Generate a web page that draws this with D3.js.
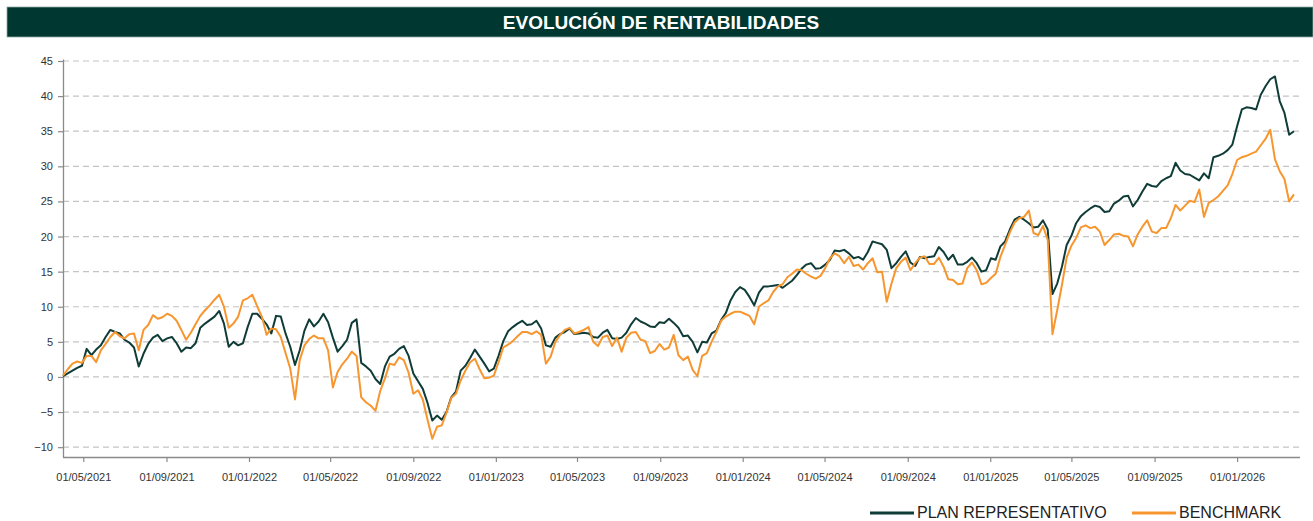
<!DOCTYPE html>
<html>
<head>
<meta charset="utf-8">
<script src="https://cdn.jsdelivr.net/npm/d3@7"></script>
<style>
  body { margin: 0; background: #fff; }
  text { font-family: "Liberation Sans", Arial, sans-serif; }
</style>
</head>
<body>
<svg id="chart" width="1313" height="521"></svg>
<script>
// weekly observations, starting on this date
const startDate = "2021-04-01";
const stepDays = 7;

const planValues = [
  0.1, 0.5, 0.9, 1.3, 1.6, 4.0, 3.1, 3.9, 4.5, 5.7,
  6.7, 6.4, 6.2, 5.3, 4.9, 4.2, 1.5, 3.3, 4.7, 5.6,
  6.0, 5.1, 5.5, 5.7, 4.8, 3.6, 4.2, 4.1, 4.8, 7.0,
  7.6, 8.1, 8.6, 9.4, 7.6, 4.3, 5.0, 4.5, 4.8, 7.1,
  9.0, 9.0, 8.3, 7.5, 6.2, 8.7, 8.6, 6.2, 4.3, 1.7,
  3.8, 6.6, 8.2, 7.2, 7.9,
  9.0, 7.8, 5.6, 3.6, 4.4, 5.3, 7.7, 8.2, 2.0, 1.5,
  0.9, -0.3, -1.0, 1.5, 2.9, 3.3, 4.0, 4.4, 3.0, 0.5,
  -0.6, -1.7, -3.7, -6.2, -5.5, -6.1, -5.0, -2.9, -2.1, 0.9,
  1.6, 2.7, 3.9, 2.9, 1.9, 0.8, 1.2, 3.0, 5.1, 6.5,
  7.1, 7.6, 8.0, 7.4, 7.5, 8.0, 6.9, 4.5, 4.3, 5.6, 6.1, 6.4,
  6.9, 6.1, 6.2, 6.3, 6.2, 5.7, 5.6, 6.3, 6.7, 5.5,
  5.4, 5.6, 6.3, 7.5, 8.4, 7.9, 7.6, 7.2, 7.1, 7.8,
  7.7, 8.3, 7.7, 7.0, 5.8, 5.9, 5.0, 3.5, 5.0, 4.9,
  6.2, 6.6, 8.1, 9.1, 10.9, 12.1, 12.8, 12.4, 11.4, 10.2,
  12.0, 12.9, 12.9, 13.0, 13.1, 12.7, 13.2, 13.7, 14.5, 15.4, 16.0, 16.2, 15.4,
  15.5, 16.0, 16.7, 18.0, 17.9, 18.1, 17.6, 16.9, 17.1, 16.7,
  17.8, 19.3, 19.1, 18.9, 18.1, 15.5, 16.2, 17.1, 17.9, 16.3,
  15.8, 17.1, 16.9, 17.1, 17.2, 18.5, 17.8, 16.7, 17.4, 16.0,
  16.0, 16.4, 17.0, 16.2, 15.0, 15.2, 16.9, 16.7, 18.6, 19.3,
  21.0, 22.4, 22.8, 22.4, 21.9, 21.3, 21.4, 22.3, 21.0, 11.8, 13.3, 15.7, 18.8,
  20.1, 21.9, 22.9, 23.5, 24.0, 24.4, 24.2, 23.5, 23.6, 24.7,
  25.1, 25.7, 25.8, 24.3, 25.2, 26.4, 27.5, 27.2, 27.1, 27.9,
  28.3, 28.6, 30.5, 29.4, 28.9, 28.8, 28.4, 28.0, 29.0, 28.3,
  31.3, 31.5, 31.8, 32.3, 33.1, 35.7, 38.1, 38.4, 38.3, 38.1,
  40.2, 41.4, 42.4, 42.8, 39.3, 37.6, 34.5, 35.0
];

const benchValues = [
  0.2, 1.1, 1.9, 2.2, 2.0, 3.0, 3.0, 2.1, 3.8, 4.7,
  5.7, 6.4, 5.8, 5.5, 6.1, 6.2, 3.8, 6.7, 7.4, 8.8,
  8.3, 8.5, 9.0, 8.7, 8.0, 6.7, 5.3, 6.3, 7.5, 8.7,
  9.5, 10.2, 11.0, 11.7, 10.0, 7.0, 7.6, 8.6, 10.9, 11.2,
  11.7, 10.1, 8.6, 6.0, 6.9, 6.8, 5.7, 3.4, 1.2, -3.2,
  2.4, 4.5, 5.4, 5.9, 5.5,
  5.5, 3.8, -1.5, 0.7, 1.8, 2.6, 3.6, 3.0, -2.9, -3.6,
  -4.1, -4.8, -2.0, -0.2, 1.9, 1.7, 2.8, 2.4, 0.6, -2.4,
  -1.9, -3.2, -6.1, -8.8, -7.1, -6.9, -5.1, -3.0, -2.4, -0.5,
  0.9, 2.1, 2.6, 1.1, -0.2, -0.1, 0.2, 2.1, 4.2, 4.6,
  5.1, 5.8, 6.4, 6.4, 6.1, 6.5, 6.0, 1.9, 2.9, 5.0, 6.0, 6.7,
  7.0, 6.2, 6.4, 6.7, 7.1, 5.0, 4.4, 5.7, 5.9, 4.4,
  5.6, 3.6, 5.6, 6.3, 6.4, 5.3, 5.1, 3.4, 3.7, 4.7,
  3.9, 4.2, 6.0, 3.1, 2.4, 2.9, 1.0, 0.1, 3.0, 3.4,
  5.0, 6.4, 8.0, 8.6, 9.0, 9.3, 9.3, 9.0, 8.7, 7.5,
  10.0, 10.5, 10.9, 12.1, 12.9, 13.2, 14.2, 14.7, 15.3, 15.2, 14.7, 14.3, 14.0,
  14.4, 15.5, 16.9, 17.6, 17.2, 16.2, 17.1, 15.8, 16.0, 15.3,
  16.2, 16.9, 14.9, 15.0, 10.7, 13.3, 15.5, 16.4, 17.0, 15.2,
  16.2, 17.0, 17.2, 16.1, 16.1, 17.0, 15.7, 13.9, 13.8, 13.2,
  13.3, 15.5, 16.3, 15.2, 13.2, 13.4, 14.1, 14.7, 17.1, 18.8,
  20.6, 22.0, 22.6, 22.8, 23.7, 20.5, 20.2, 21.5, 19.5, 6.1, 9.5, 13.1, 17.0,
  18.7, 19.8, 21.3, 21.6, 21.2, 21.4, 20.7, 18.8, 19.5, 20.3,
  20.4, 20.1, 20.0, 18.6, 20.3, 21.4, 22.3, 20.7, 20.5, 21.2,
  21.2, 22.6, 24.5, 23.7, 24.4, 25.1, 24.9, 26.7, 22.8, 24.8,
  25.2, 25.7, 26.5, 27.3, 28.9, 30.9, 31.3, 31.5, 31.8, 32.1,
  33.0, 33.9, 35.2, 31.0, 29.3, 28.2, 25.0, 26.0
];

const xTickDates = [
  "2021-05-01", "2021-09-01", "2022-01-01", "2022-05-01", "2022-09-01",
  "2023-01-01", "2023-05-01", "2023-09-01", "2024-01-01", "2024-05-01",
  "2024-09-01", "2025-01-01", "2025-05-01", "2025-09-01", "2026-01-01"
];
const yTicks = [-10, -5, 0, 5, 10, 15, 20, 25, 30, 35, 40, 45];
const seriesNames = ["PLAN REPRESENTATIVO", "BENCHMARK"];
const seriesColors = ["#0f3c37", "#f7962f"];
const titleText = "EVOLUCIÓN DE RENTABILIDADES";

const parse = d3.timeParse("%Y-%m-%d");
const fmt = d3.timeFormat("%d/%m/%Y");

const svg = d3.select("#chart");

// title bar
svg.append("rect")
    .attr("x", 7).attr("y", 7)
    .attr("width", 1306).attr("height", 30)
    .attr("fill", "#003731")
    .attr("stroke", "#8fa8a4").attr("stroke-width", 0.8);
svg.append("text")
    .attr("x", 661).attr("y", 29)
    .attr("text-anchor", "middle")
    .attr("fill", "#fff")
    .attr("font-weight", "bold")
    .attr("font-size", 19)
    .text(titleText);

// plot area (plain names like "top" clash with window globals)
var plotLeft = 63, plotRight = 1300, plotTop = 59.6, plotBottom = 457;

var x = d3.scaleTime()
    .domain([parse("2021-04-01"), parse("2026-04-04")])
    .range([plotLeft, plotRight]);
var y = d3.scaleLinear()
    .domain([-11.4, 45.2])
    .range([plotBottom, plotTop]);

var start = parse(startDate);
function toPoints(vals) {
  return vals.map((v, i) => ({ date: d3.timeDay.offset(start, i * stepDays), value: v }));
}
var series = [toPoints(planValues), toPoints(benchValues)];

// grid
svg.append("g")
  .selectAll("line")
  .data(yTicks)
  .enter().append("line")
    .attr("x1", plotLeft).attr("x2", plotRight)
    .attr("y1", d => y(d)).attr("y2", d => y(d))
    .attr("stroke", "#c4c4c4")
    .attr("stroke-width", 1.2)
    .attr("stroke-dasharray", "6,4");

// y axis
var yAxis = d3.axisLeft(y).tickValues(yTicks).tickSize(5).tickPadding(5);
var gy = svg.append("g")
    .attr("transform", "translate(" + plotLeft + ",0)")
    .call(yAxis);

// x axis
var xAxis = d3.axisBottom(x)
    .tickValues(xTickDates.map(parse))
    .tickFormat(fmt)
    .tickSize(5).tickPadding(11);
var gx = svg.append("g")
    .attr("transform", "translate(0," + plotBottom + ")")
    .call(xAxis);

[gx, gy].forEach(g => {
  g.select(".domain").attr("stroke", "#8a8a8a").attr("stroke-width", 1.3);
  g.selectAll(".tick line").attr("stroke", "#8a8a8a").attr("stroke-width", 1.2);
  g.selectAll(".tick text")
    .attr("fill", "#333")
    .attr("font-size", 11)
    .attr("font-family", "\"Liberation Sans\", Arial, sans-serif");
});
gx.select(".domain").attr("d", "M" + plotLeft + ",0.5H" + plotRight);
gy.select(".domain").attr("d", "M0.5," + plotTop + "V" + plotBottom);

// lines
var line = d3.line()
    .x(d => x(d.date))
    .y(d => y(d.value));

svg.append("g")
  .selectAll("path")
  .data(series)
  .enter().append("path")
    .attr("fill", "none")
    .attr("stroke", (d, i) => seriesColors[i])
    .attr("stroke-width", 2)
    .attr("stroke-linejoin", "round")
    .attr("d", line);

// legend
var legendX = [870, 1132];
var leg = svg.append("g");
seriesNames.forEach((name, i) => {
  leg.append("line")
    .attr("x1", legendX[i]).attr("x2", legendX[i] + 44)
    .attr("y1", 513).attr("y2", 513)
    .attr("stroke", seriesColors[i]).attr("stroke-width", 3);
  leg.append("text")
    .attr("x", legendX[i] + 47).attr("y", 518)
    .attr("font-size", 16)
    .attr("fill", "#222")
    .text(name);
});
</script>
</body>
</html>
